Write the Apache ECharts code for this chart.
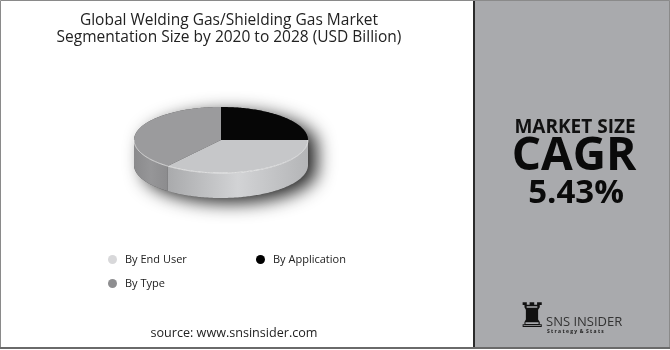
<!DOCTYPE html>
<html>
<head>
<meta charset="utf-8">
<script src="https://cdn.jsdelivr.net/npm/echarts@6.0.0/dist/echarts.min.js"></script>
<style>
  html, body { margin: 0; padding: 0; background: #fff; }
  #chart { width: 670px; height: 350px; }
</style>
</head>
<body>
<div id="chart"></div>
<script>
// data
const categories = ['By End User', 'By Application', 'By Type'];
const shares = [35.5, 25, 39.5];
const drawOrder = [1, 0, 2]; // slices clockwise from 12 o'clock
const headline = ['MARKET SIZE', 'CAGR', '5.43%'];
const titleLines = ['Global Welding Gas/Shielding Gas Market', 'Segmentation Size by 2020 to 2028 (USD Billion)'];

const FONT = '"Open Sans", "DejaVu Sans", sans-serif';
const topColors = ['#c6c7c9', '#060606', '#9b9b9d'];
const sideColors = [
  ['#a9aaac', '#d2d3d5', '#b4b5b7'],
  ['#111', '#222', '#111'],
  ['#8a8a8c', '#969698', '#8c8c8e']
];
const legendColors = ['#d8d8da', '#000000', '#8e8e90'];
const legendPos = [[103, 249], [251, 249], [103, 273]];

const pie = { cx: 221, cy: 140, rx: 87, ry: 33, depth: 25 };
const total = shares.reduce((a, b) => a + b, 0);

function startAngle(idx) {
  let s = 0;
  for (const k of drawOrder) {
    if (k === idx) break;
    s += shares[k];
  }
  return s / total * Math.PI * 2;
}
function pt(phi, dy) {
  return [pie.cx + pie.rx * Math.sin(phi), pie.cy - pie.ry * Math.cos(phi) + (dy || 0)];
}
function arc(a, b, dy) {
  const n = Math.max(2, Math.ceil((b - a) / (Math.PI / 180)));
  const out = [];
  for (let i = 0; i <= n; i++) out.push(pt(a + (b - a) * i / n, dy));
  return out;
}

function makeRender(idx) {
  return function (params, api) {
    const a = startAngle(idx);
    const b = a + api.value(0) / total * Math.PI * 2;
    const children = [];
    if (idx === drawOrder[0]) {
      // drop shadow under the whole disc
      children.push({
        type: 'polygon', z2: -1,
        shape: { points: arc(Math.PI * 1.5, Math.PI * 2.5, 0).concat(arc(Math.PI / 2, Math.PI * 1.5, pie.depth)) },
        style: { fill: '#555', shadowBlur: 18, shadowColor: 'rgba(0,0,0,0.85)', shadowOffsetX: 9, shadowOffsetY: 5 }
      });
    }
    const fa = Math.max(a, Math.PI / 2), fb = Math.min(b, Math.PI * 1.5);
    if (fb > fa) {
      const sc = sideColors[idx];
      children.push({
        type: 'polygon', z2: 1,
        shape: { points: arc(fa, fb, 0).concat(arc(fa, fb, pie.depth).reverse()) },
        style: {
          fill: {
            type: 'linear', x: 0, y: 0, x2: 1, y2: 0,
            colorStops: [{ offset: 0, color: sc[0] }, { offset: 0.5, color: sc[1] }, { offset: 1, color: sc[2] }]
          }
        }
      });
      children.push({
        type: 'polyline', z2: 3,
        shape: { points: arc(fa, fb, 0) },
        style: { stroke: 'rgba(255,255,255,0.65)', lineWidth: 1, fill: null }
      });
    }
    children.push({
      type: 'polygon', z2: 2,
      shape: { points: [[pie.cx, pie.cy]].concat(arc(a, b, 0)) },
      style: { fill: topColors[idx] }
    });
    return { type: 'group', children: children };
  };
}

const chart = echarts.init(document.getElementById('chart'), null, { renderer: 'canvas' });

const option = {
  animation: false,
  backgroundColor: '#ffffff',
  legend: categories.map((name, i) => ({
    data: [name],
    left: legendPos[i][0],
    top: legendPos[i][1],
    icon: 'circle',
    itemWidth: 9,
    itemHeight: 9,
    selectedMode: false,
    textStyle: { fontSize: 11, color: '#222', fontFamily: FONT, padding: [0, 0, 0, 3] }
  })),
  series: categories.map((name, i) => ({
    type: 'custom',
    name: name,
    coordinateSystem: 'none',
    silent: true,
    itemStyle: { color: legendColors[i] },
    data: [[shares[i]]],
    renderItem: makeRender(i)
  })),
  graphic: [
    // right panel
    { type: 'rect', z: 0, shape: { x: 474, y: 0, width: 196, height: 349 }, style: { fill: '#a9aaad' } },
    { type: 'rect', z: 1, shape: { x: 473, y: 0, width: 2, height: 349 }, style: { fill: '#2b2b2b' } },
    // outer frame
    { type: 'rect', z: 1, shape: { x: 0.5, y: 0.5, width: 669, height: 348 }, style: { fill: null, stroke: '#8a8a8a', lineWidth: 1 } },
    { type: 'rect', z: 1, shape: { x: 0, y: 347, width: 670, height: 2 }, style: { fill: '#6a6a6a' } },
    // title
    {
      type: 'text', z: 5,
      style: {
        text: titleLines.join('\n'), x: 229, y: 29, align: 'center', verticalAlign: 'middle',
        font: '500 15.5px ' + FONT, lineHeight: 17, fill: '#222'
      }
    },
    // headline
    { type: 'text', z: 5, style: { text: headline[0], x: 575, y: 128, align: 'center', verticalAlign: 'middle', font: 'bold 19px ' + FONT, fill: '#111' } },
    { type: 'text', z: 5, style: { text: headline[1], x: 574, y: 157, align: 'center', verticalAlign: 'middle', font: 'bold 46px ' + FONT, fill: '#0a0a0a' } },
    { type: 'text', z: 5, style: { text: headline[2], x: 576, y: 194, align: 'center', verticalAlign: 'middle', font: 'bold 33px ' + FONT, fill: '#0a0a0a' } },
    // logo
    { type: 'text', z: 5, style: { text: '\u265C', x: 532, y: 318, align: 'center', verticalAlign: 'middle', font: '34px "DejaVu Sans"', fill: '#111' } },
    { type: 'text', z: 5, style: { text: 'SNS INSIDER', x: 546, y: 322, align: 'left', verticalAlign: 'middle', font: '13px ' + FONT, fill: '#333' } },
    { type: 'text', z: 5, style: { text: 'S t r a t e g y  &  S t a t s', x: 547, y: 332, align: 'left', verticalAlign: 'middle', font: 'bold 5px ' + FONT, fill: '#222' } },
    // source
    { type: 'text', z: 5, style: { text: 'source: www.snsinsider.com', x: 234, y: 333, align: 'center', verticalAlign: 'middle', font: '12.6px ' + FONT, fill: '#222' } }
  ]
};

chart.setOption(option);
</script>
</body>
</html>
